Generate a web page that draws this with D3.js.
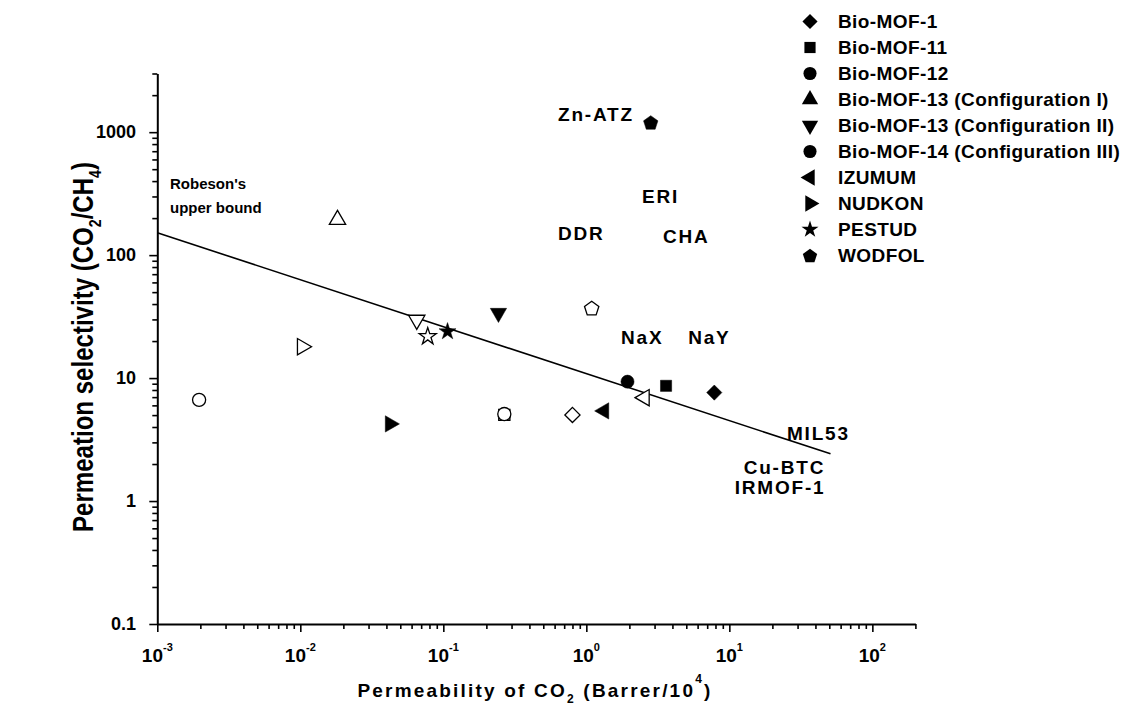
<!DOCTYPE html>
<html><head><meta charset="utf-8">
<script src="https://cdn.jsdelivr.net/npm/d3@7"></script>
<style>
body{margin:0;background:#fff}
text{font-family:"Liberation Sans",Arial,sans-serif;font-weight:bold;fill:#000}
</style>
</head><body>
<svg id="chart" width="1122" height="708"></svg>
<script>
// ---------- data ----------
const seriesNames = ["Bio-MOF-1","Bio-MOF-11","Bio-MOF-12","Bio-MOF-13 (Configuration I)",
  "Bio-MOF-13 (Configuration II)","Bio-MOF-14 (Configuration III)","IZUMUM","NUDKON","PESTUD","WODFOL"];
// each point: series index, CO2 permeability (Barrer/10^4), CO2/CH4 selectivity, mixture(filled)/single(open)
const pointSeries       = [0, 1, 2, 4, 6, 7, 8, 9,   0, 1, 2, 3, 4, 5, 6, 7, 8, 9];
const pointPermeability = [7.85, 3.61, 1.94, 0.243, 1.33, 0.0424, 0.107, 2.82,
                           0.80, 0.267, 0.00196, 0.0182, 0.0652, 0.267, 2.55, 0.0103, 0.0778, 1.09];
const pointSelectivity  = [7.62, 8.65, 9.35, 33.8, 5.41, 4.24, 23.9, 1200,
                           5.02, 5.02, 6.65, 194, 29.7, 5.1, 6.93, 18.0, 21.8, 37.1];
const pointCondition    = ["mix","mix","mix","mix","mix","mix","mix","mix",
                           "single","single","single","single","single","single","single","single","single","single"];
// Robeson upper bound end points
const robesonPermeability = [0.001, 51];
const robesonSelectivity  = [152, 2.42];
// literature material labels (text at permeability / selectivity)
const materialLabels = ["Zn-ATZ","ERI","DDR","CHA","NaX","NaY","MIL53","Cu-BTC","IRMOF-1"];
const materialPerm   = [0.634, 2.45, 0.634, 3.43, 1.75, 5.15, 25.3, 12.6, 10.9];
const materialSel    = [1384, 298, 149, 143, 21.2, 21.2, 3.52, 1.89, 1.28];
const xTickExponents = [-3,-2,-1,0,1,2];
const yTickValues    = [0.1, 1, 10, 100, 1000];
const yTickLabels    = ["0.1","1","10","100","1000"];

// ---------- layout ----------
const svg = d3.select("#chart");
const x = d3.scaleLog().domain([0.001, 200]).range([157.3, 915.4]);
const y = d3.scaleLog().domain([0.1, 3000]).range([624, 73.5]);

// axes
const xAxis = d3.axisBottom(x)
  .tickValues(x.ticks().filter(v => v <= 200))
  .tickSizeOuter(0)
  .tickFormat("");
const gx = svg.append("g").attr("transform","translate(0,624)").call(xAxis);
gx.select(".domain").attr("stroke","#000").attr("stroke-width",2);
gx.selectAll(".tick line")
  .attr("stroke","#000").attr("stroke-width",1.6)
  .attr("y2", d => xTickExponents.some(e => Math.abs(Math.log10(d) - e) < 1e-9) ? 8 : 5);

const yAxis = d3.axisLeft(y)
  .tickValues(y.ticks().filter(v => v <= 3000))
  .tickSizeOuter(0)
  .tickFormat("");
const gy = svg.append("g").attr("transform","translate(157.3,0)").call(yAxis);
gy.select(".domain").attr("stroke","#000").attr("stroke-width",2);
gy.selectAll(".tick line")
  .attr("stroke","#000").attr("stroke-width",1.6)
  .attr("x2", d => yTickValues.some(v => Math.abs(v - d) / v < 1e-9) ? -8 : -5);

// y tick labels
svg.append("g").selectAll("text").data(yTickValues).join("text")
  .attr("x", 136).attr("y", d => y(d))
  .attr("text-anchor","end").attr("dominant-baseline","central")
  .attr("font-size", 18)
  .text((d,i) => yTickLabels[i]);

// x tick labels 10^n
const xl = svg.append("g").selectAll("text").data(xTickExponents).join("text")
  .attr("x", d => x(Math.pow(10,d)))
  .attr("y", 662)
  .attr("text-anchor","middle")
  .attr("font-size", 19);
xl.append("tspan").text("10");
xl.append("tspan").attr("font-size", 11).attr("dy", -11).text(d => d);

// axis titles
const xt = svg.append("text")
  .attr("x", 535).attr("y", 697)
  .attr("text-anchor","middle").attr("font-size", 19).attr("letter-spacing", 2.2);
xt.append("tspan").text("Permeability of CO");
xt.append("tspan").attr("font-size", 12).attr("dy", 6).text("2");
xt.append("tspan").attr("dy", -6).text("  (Barrer/10");
xt.append("tspan").attr("font-size", 12).attr("dy", -14).text("4");
xt.append("tspan").attr("dy", 14).text(")");

const yt = svg.append("text")
  .attr("transform","translate(93,347) rotate(-90)")
  .attr("text-anchor","middle").attr("font-size", 29);
yt.append("tspan").text("Permeation selectivity (CO");
yt.append("tspan").attr("font-size", 17).attr("dy", 8).text("2");
yt.append("tspan").attr("dy", -8).text("/CH");
yt.append("tspan").attr("font-size", 17).attr("dy", 8).text("4");
yt.append("tspan").attr("dy", -8).text(")");
yt.attr("textLength", 370).attr("lengthAdjust","spacingAndGlyphs");

// Robeson upper bound
svg.append("path")
  .datum(robesonPermeability.map((p,i) => [p, robesonSelectivity[i]]))
  .attr("d", d3.line().x(d => x(d[0])).y(d => y(d[1])))
  .attr("stroke","#000").attr("stroke-width",1.6).attr("fill","none");
svg.append("text").attr("x",170).attr("y",183).attr("dominant-baseline","central")
  .attr("font-size",15).text("Robeson's");
svg.append("text").attr("x",170).attr("y",207).attr("dominant-baseline","central")
  .attr("font-size",15).text("upper bound");

// symbols
const pentagon = {
  draw(ctx, size) {
    const r = Math.sqrt(size / 2.378);
    for (let i = 0; i < 5; i++) {
      const a = -Math.PI/2 + i * 2 * Math.PI / 5;
      const px = r * Math.cos(a), py = r * Math.sin(a) + r * 0.1;
      if (i === 0) ctx.moveTo(px, py); else ctx.lineTo(px, py);
    }
    ctx.closePath();
  }
};
const shapeDefs = [
  {t: d3.symbolSquare, s: 115, r: 45},
  {t: d3.symbolSquare, s: 125, r: 0},
  {t: d3.symbolCircle, s: 135, r: 0},
  {t: d3.symbolTriangle, s: 115, r: 0},
  {t: d3.symbolTriangle, s: 115, r: 180},
  {t: d3.symbolCircle, s: 135, r: 0},
  {t: d3.symbolTriangle, s: 115, r: -90},
  {t: d3.symbolTriangle, s: 115, r: 90},
  {t: d3.symbolStar, s: 90, r: 0},
  {t: pentagon, s: 135, r: 0}
];
function symPath(i){ return d3.symbol().type(shapeDefs[i].t).size(shapeDefs[i].s)(); }

const points = pointSeries.map((s,i) => ({s, p: pointPermeability[i], v: pointSelectivity[i], c: pointCondition[i]}));
svg.append("g").selectAll("path").data(points).join("path")
  .attr("d", d => symPath(d.s))
  .attr("transform", d => `translate(${x(d.p)},${y(d.v)}) rotate(${shapeDefs[d.s].r})`)
  .attr("fill", d => d.c === "mix" ? "#000" : "#fff")
  .attr("stroke", "#000").attr("stroke-width", d => d.c === "mix" ? 0.5 : 1.3);

// material labels
svg.append("g").selectAll("text").data(materialLabels).join("text")
  .attr("x", (d,i) => x(materialPerm[i]))
  .attr("y", (d,i) => y(materialSel[i]))
  .attr("dominant-baseline","central")
  .attr("font-size", 19).attr("letter-spacing", 1.8)
  .text(d => d);

// legend
const lg = svg.append("g").selectAll("g").data(seriesNames).join("g")
  .attr("transform", (d,i) => `translate(810,${21.5 + i*26})`);
lg.append("path")
  .attr("d", (d,i) => symPath(i))
  .attr("transform", (d,i) => `rotate(${shapeDefs[i].r})`)
  .attr("fill","#000");
lg.append("text").attr("x", 28).attr("dominant-baseline","central")
  .attr("font-size", 19).attr("letter-spacing", 0.4)
  .text(d => d);
</script>
</body></html>
